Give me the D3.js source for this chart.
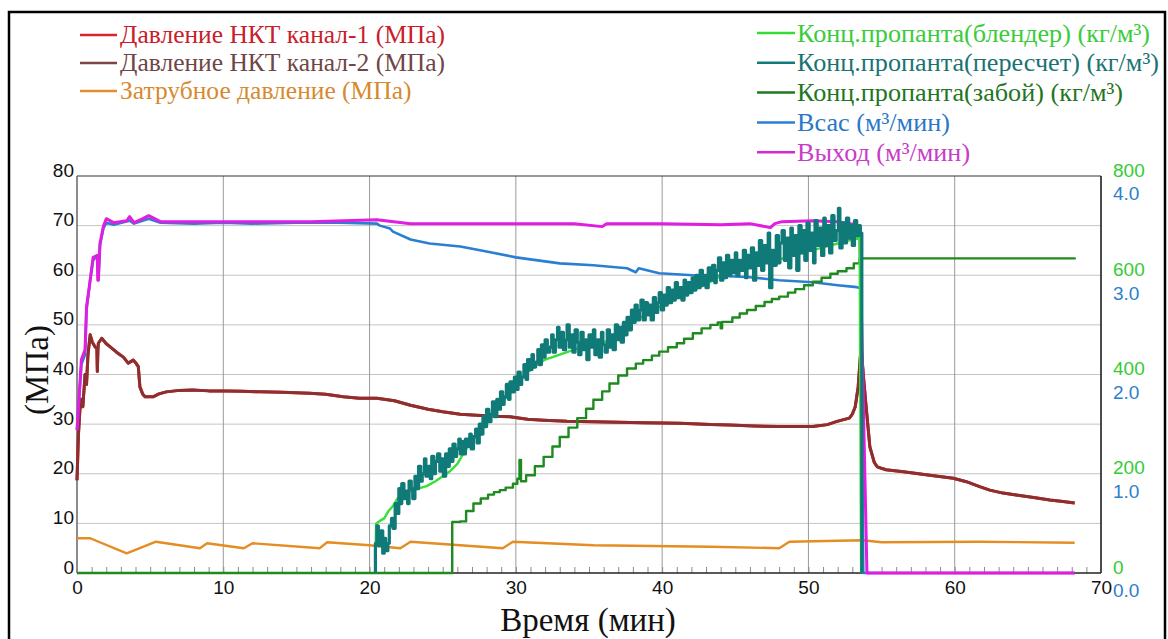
<!DOCTYPE html>
<html>
<head>
<meta charset="utf-8">
<script src="https://cdn.jsdelivr.net/npm/d3@7"></script>
<style>
  body { margin: 0; background: #fff; }
  svg { display: block; }
  .tick text { font-family: "Liberation Sans", Arial, sans-serif; font-size: 19px; }
  .legend-text, .axis-title { font-family: "Liberation Serif", "Times New Roman", serif; }
  .legend-text { font-size: 25.5px; }
  .legend-right { font-size: 26.2px; }
  .axis-title { font-size: 33px; fill: #111; }
</style>
</head>
<body>
<svg id="chart"></svg>
<script>
// time axis (min) and left axis (MPa) ticks
const timeTicks = [0, 10, 20, 30, 40, 50, 60, 70];
const pressureTicks = [0, 10, 20, 30, 40, 50, 60, 70, 80];
const concTicks = [0, 200, 400, 600, 800];
const rateTicks = [0, 1, 2, 3, 4];

// [time, MPa]
const tubingP2 = [
  [0,18.7],[0.1,28],[0.2,33],[0.3,35],[0.4,33.5],[0.55,40],[0.65,38],[0.75,44],[0.9,48],[1.05,46.5],
  [1.23,45.6],[1.36,45.2],[1.39,40.6],[1.43,45],[1.46,46.3],[1.69,47.3],[2.0,46.2],[2.25,45.6],[2.7,44.5],
  [3.17,43.5],[3.5,42.3],[3.85,42.9],[4.05,42.2],[4.19,41.6],[4.3,37.5],[4.5,36],[4.65,35.5],[5.2,35.5],
  [5.6,36.1],[6.1,36.5],[7.0,36.8],[7.9,36.9],[9.0,36.7],[10.2,36.7],[11.3,36.6],[12.5,36.5],[14.0,36.4],
  [15.9,36.2],[17.0,36.0],[18.2,35.5],[19.3,35.2],[20.5,35.2],[21.7,34.7],[22.8,33.8],[24.0,33.0],[25.0,32.5],
  [26.2,32.0],[27.3,31.8],[28.5,31.6],[29.6,31.5],[30.8,31.0],[31.9,30.8],[33.5,30.6],[35.3,30.5],[37.0,30.4],
  [38.7,30.3],[41.2,30.2],[43.3,29.9],[44.6,29.8],[46.3,29.6],[48.0,29.5],[50.3,29.5],[51.3,29.9],[51.9,30.5],
  [52.4,30.9],[52.8,31.2],[53.0,32],[53.2,33.5],[53.4,37.5],[53.6,45.6],[53.75,40],[53.9,34.9],[54.2,25.4],
  [54.5,22.3],[54.7,21.4],[55.3,20.8],[56.5,20.4],[58.3,19.7],[59.9,19.1],[60.8,18.4],[61.7,17.4],[62.4,16.7],
  [63.3,16.1],[64.2,15.7],[65.4,15.2],[66.5,14.7],[67.4,14.4],[68.2,14.1]
];
// channel 1 reads the same as channel 2 and lies under it
const tubingP1 = tubingP2;

const annulusP = [
  [0,7.0],[0.9,7.0],[3.4,3.95],[5.4,6.3],[8.4,5.0],[8.9,6.0],[11.4,5.0],[12.0,6.0],[16.6,5.0],[17.1,6.2],
  [20.0,5.6],[22.1,5.0],[22.8,6.3],[29.1,5.0],[29.8,6.3],[35.3,5.6],[43.3,5.3],[48.0,5.0],[48.7,6.3],
  [53.7,6.6],[55,6.2],[61.7,6.3],[68.2,6.1]
];

// [time, m3/min]
const suctionRate = [
  [0,1.44],[0.3,2.1],[0.55,2.2],[0.65,2.65],[0.9,2.95],[1.1,3.15],[1.39,3.2],[1.46,2.95],[1.57,3.3],[1.8,3.47],
  [2.0,3.53],[2.5,3.51],[3.6,3.55],[3.9,3.52],[4.9,3.57],[5.7,3.53],[8,3.52],[10,3.53],[12,3.52],[15,3.53],
  [18,3.53],[20.5,3.52],[20.7,3.5],[21.4,3.47],[21.6,3.44],[22.8,3.36],[24.1,3.32],[26.2,3.29],[28,3.24],
  [30,3.18],[33,3.12],[35.3,3.1],[37.6,3.07],[38.2,3.03],[38.4,3.07],[39.8,3.02],[42.1,3.0],[44.6,2.99],
  [46,2.98],[48,2.95],[50.3,2.93],[52,2.9],[53.3,2.88],[53.6,2.87],[53.75,0],[68.2,0]
];
const outletRate = [
  [0,1.44],[0.3,2.15],[0.55,2.25],[0.65,2.68],[0.9,2.95],[1.1,3.18],[1.39,3.2],[1.42,2.95],[1.46,2.95],
  [1.57,3.32],[1.8,3.49],[2.0,3.57],[2.5,3.53],[3.4,3.55],[3.6,3.59],[3.9,3.53],[4.5,3.57],[4.9,3.6],
  [5.7,3.54],[8,3.54],[12,3.54],[16,3.54],[20.5,3.56],[22.8,3.52],[26,3.52],[30,3.52],[34,3.52],[35.9,3.49],
  [36.2,3.52],[40,3.52],[44,3.51],[46,3.52],[47.4,3.48],[47.7,3.52],[48.2,3.54],[50.3,3.55],[52,3.54],
  [53.3,3.51],[53.5,3.47],[54.0,0],[68.2,0]
];

// [time, kg/m3]
const concBlender = [
  [20.38,0],[20.45,100],[20.7,105],[21.0,110],[21.3,125],[21.6,135],[21.9,150],[22.3,160],[22.8,165],
  [23.3,170],[23.9,175],[24.5,185],[25.0,195],[25.5,205],[26.0,220],[26.5,245],[27.0,265],[27.5,285],
  [28.0,305],[28.5,320],[29.0,340],[29.5,360],[30.0,375],[30.5,395],[31.0,410],[31.5,420],[32.0,430],
  [32.5,435],[33.0,440],[33.5,445],[34.0,450],[34.5,455],[35.0,460],[35.5,462],[36.0,465],[36.5,470],
  [37.0,480],[37.5,490],[38.0,505],[38.5,515],[39.0,520],[39.5,530],[40.0,540],[40.5,548],[41.0,555],
  [41.5,562],[42.0,568],[42.5,575],[43.0,582],[43.5,590],[44.0,598],[44.5,605],[45.0,610],[45.5,615],
  [46.0,618],[46.5,622],[47.0,625],[47.5,628],[48.0,632],[48.5,636],[49.0,640],[49.5,644],[50.0,648],
  [50.5,652],[51.0,656],[51.5,660],[52.0,664],[52.5,668],[53.0,672],[53.5,676],[53.6,0]
];
const concRecalc = [
  [20.4,0],[20.4,60],[20.5,95],[20.6,55],[20.75,85],[20.9,40],[21.0,70],[21.1,45],[21.25,60],[21.35,95],
  [21.5,110],[21.6,90],[21.75,140],[21.85,120],[22.0,170],[22.1,140],[22.2,180],[22.35,150],[22.45,165],
  [22.6,140],[22.7,185],[22.85,170],[22.95,150],[23.1,195],[23.2,170],[23.35,215],[23.5,185],[23.6,200],
  [23.75,230],[23.85,195],[24.0,215],[24.15,190],[24.25,235],[24.4,200],[24.5,225],[24.65,240],[24.8,205],
  [24.9,230],[25.05,195],[25.2,240],[25.3,215],[25.45,250],[25.6,225],[25.7,260],[25.85,235],[25.95,250],
  [26.1,270],[26.2,240],[26.3,265],[26.45,240],[26.55,270],[26.7,255],[26.85,280],[26.95,250],[27.1,275],
  [27.25,290],[27.35,262],[27.5,300],[27.6,280],[27.75,315],[27.9,295],[28.0,330],[28.15,305],[28.3,320],
  [28.4,345],[28.55,315],[28.7,350],[28.8,330],[28.95,365],[29.1,340],[29.2,355],[29.35,380],[29.5,350],
  [29.6,385],[29.75,365],[29.9,395],[30.0,370],[30.15,405],[30.3,380],[30.4,395],[30.55,420],[30.7,390],
  [30.8,430],[30.95,410],[31.1,440],[31.2,415],[31.35,425],[31.5,450],[31.6,420],[31.75,460],[31.9,435],
  [32.0,470],[32.15,445],[32.3,455],[32.45,480],[32.55,445],[32.7,470],[32.85,495],[32.95,455],[33.1,485],
  [33.25,450],[33.4,470],[33.5,500],[33.65,455],[33.8,480],[33.9,445],[34.05,490],[34.2,465],[34.3,440],
  [34.45,485],[34.6,450],[34.75,470],[34.85,430],[35.0,480],[35.15,455],[35.3,490],[35.4,440],[35.55,470],
  [35.7,435],[35.85,485],[35.95,460],[36.1,445],[36.25,490],[36.4,455],[36.5,480],[36.65,450],[36.8,500],
  [36.95,470],[37.05,495],[37.2,465],[37.35,505],[37.5,480],[37.6,515],[37.75,490],[37.9,530],[38.0,505],
  [38.15,540],[38.3,510],[38.45,530],[38.55,550],[38.7,510],[38.85,545],[39.0,520],[39.1,540],[39.25,510],
  [39.4,555],[39.55,525],[39.7,545],[39.8,565],[39.95,530],[40.1,560],[40.2,540],[40.35,575],[40.5,545],
  [40.65,570],[40.8,550],[40.9,585],[41.05,555],[41.2,575],[41.35,550],[41.5,590],[41.6,560],[41.75,585],
  [41.9,565],[42.05,595],[42.2,570],[42.3,600],[42.45,575],[42.6,610],[42.75,580],[42.9,600],[43.0,575],
  [43.15,615],[43.3,590],[43.45,620],[43.6,585],[43.7,610],[43.85,635],[44.0,590],[44.15,625],[44.3,595],
  [44.4,640],[44.55,600],[44.7,630],[44.85,605],[45.0,645],[45.1,600],[45.25,630],[45.4,610],[45.55,650],
  [45.7,595],[45.8,640],[45.95,615],[46.1,655],[46.25,590],[46.4,645],[46.5,620],[46.65,670],[46.8,610],
  [46.95,660],[47.1,625],[47.25,685],[47.35,575],[47.5,650],[47.65,620],[47.8,680],[47.95,625],[48.05,665],
  [48.2,690],[48.35,630],[48.5,675],[48.65,615],[48.8,695],[48.9,640],[49.05,680],[49.2,610],[49.35,700],
  [49.5,645],[49.6,690],[49.75,630],[49.9,705],[50.05,650],[50.2,685],[50.35,625],[50.45,710],[50.6,660],
  [50.75,695],[50.9,640],[51.05,715],[51.15,660],[51.3,700],[51.45,645],[51.6,720],[51.75,670],[51.9,690],
  [52.05,735],[52.15,655],[52.3,705],[52.45,665],[52.6,715],[52.75,675],[52.85,700],[53.0,660],[53.15,710],
  [53.3,680],[53.45,700],[53.55,685],[53.65,0]
];
const concBottomhole = [
  [0,0],[25.6,0],[25.65,103],[26.2,104],[26.6,125],[27.1,140],[27.6,150],[28.1,158],[28.5,163],[28.9,167],
  [29.3,172],[29.8,180],[30.1,190],[30.25,228],[30.35,185],[30.7,197],[31.3,215],[31.9,234],[32.5,255],
  [33.0,274],[33.6,293],[34.2,312],[34.8,331],[35.3,349],[35.9,366],[36.4,382],[37.0,398],[37.6,412],
  [38.2,422],[38.7,429],[39.3,438],[39.8,446],[40.4,455],[41.0,463],[41.5,472],[42.1,483],[42.7,493],
  [43.3,500],[43.8,505],[44.0,493],[44.1,506],[44.8,515],[45.3,523],[45.8,530],[46.4,538],[47.0,546],
  [47.5,552],[48.0,557],[48.6,565],[49.1,572],[49.7,580],[50.3,587],[50.9,595],[51.5,603],[52.0,608],
  [52.6,614],[53.1,624],[53.5,634],[68.2,636]
];

const leftLegend = ["Давление НКТ канал-1 (МПа)", "Давление НКТ канал-2 (МПа)", "Затрубное давление (МПа)"];
const rightLegend = ["Конц.пропанта(блендер) (кг/м³)", "Конц.пропанта(пересчет) (кг/м³)",
  "Конц.пропанта(забой) (кг/м³)", "Всас (м³/мин)", "Выход (м³/мин)"];

document.addEventListener("DOMContentLoaded", function() {
  const width = 1168;
  const height = 639;
  const plot = { left: 77, right: 1101, top: 176, bottom: 573 };

  const svg = d3.select("#chart")
                .attr("width", width)
                .attr("height", height);

  //setup scales
  const xScale = d3.scaleLinear().domain([0, 70]).range([plot.left, plot.right]);
  const yScale = d3.scaleLinear().domain([0, 80]).range([plot.bottom, plot.top]);
  const concScale = d3.scaleLinear().domain([0, 800]).range([plot.bottom, plot.top]);
  const rateScale = d3.scaleLinear().domain([0, 4]).range([plot.bottom, plot.top]);

  //outer frame
  svg.append("rect")
     .attr("x", 9).attr("y", 12)
     .attr("width", 1156).attr("height", 660)
     .attr("fill", "none")
     .attr("stroke", "#000")
     .attr("stroke-width", 2.5);

  //grid
  svg.append("g")
     .selectAll("line")
     .data(pressureTicks.slice(1, -1))
     .enter()
     .append("line")
       .attr("x1", plot.left).attr("x2", plot.right)
       .attr("y1", d => yScale(d)).attr("y2", d => yScale(d))
       .attr("stroke", "#c4c4c4");
  svg.append("g")
     .selectAll("line")
     .data(timeTicks.slice(1, -1))
     .enter()
     .append("line")
       .attr("x1", d => xScale(d)).attr("x2", d => xScale(d))
       .attr("y1", plot.top).attr("y2", plot.bottom)
       .attr("stroke", "#9a9a9a");

  //minor ticks every minute
  svg.append("g")
     .attr("transform", `translate(0,${plot.bottom})`)
     .call(d3.axisBottom(xScale).tickValues(d3.range(1, 70)).tickSize(-6).tickFormat(""))
     .call(g => g.select(".domain").remove())
     .selectAll("line").attr("stroke", "#8a8a8a");

  //plot border
  const border = svg.append("g").attr("fill", "none");
  border.append("line").attr("x1", plot.left).attr("x2", plot.right).attr("y1", plot.top).attr("y2", plot.top).attr("stroke", "#333");
  border.append("line").attr("x1", plot.right).attr("x2", plot.right).attr("y1", plot.top).attr("y2", plot.bottom).attr("stroke", "#111").attr("stroke-width", 1.5);
  border.append("line").attr("x1", plot.left).attr("x2", plot.left).attr("y1", plot.top).attr("y2", plot.bottom).attr("stroke", "#666").attr("stroke-width", 1.5);
  border.append("line").attr("x1", plot.left).attr("x2", plot.right).attr("y1", plot.bottom).attr("y2", plot.bottom).attr("stroke", "#222").attr("stroke-width", 1.5);

  //axes labels
  svg.append("g")
     .attr("transform", `translate(${plot.left},0)`)
     .call(d3.axisLeft(yScale).tickValues(pressureTicks).tickSize(0).tickPadding(3))
     .call(g => g.select(".domain").remove())
     .selectAll("text").attr("dy", "0").attr("fill", "#111");

  svg.append("g")
     .attr("transform", `translate(0,${plot.bottom})`)
     .call(d3.axisBottom(xScale).tickValues(timeTicks).tickSize(0).tickPadding(8))
     .call(g => g.select(".domain").remove())
     .selectAll("text").attr("fill", "#111");

  svg.append("g")
     .attr("transform", `translate(${plot.right},0)`)
     .call(d3.axisRight(concScale).tickValues(concTicks).tickSize(0).tickPadding(12))
     .call(g => g.select(".domain").remove())
     .selectAll("text").attr("dy", "0").attr("fill", "#33cc33");

  svg.append("g")
     .attr("transform", `translate(${plot.right},0)`)
     .call(d3.axisRight(rateScale).tickValues(rateTicks).tickSize(0).tickPadding(12).tickFormat(d3.format(".1f")))
     .call(g => g.select(".domain").remove())
     .selectAll("text").attr("dy", "1.25em").attr("fill", "#2d7fcb");

  //axis titles
  svg.append("text")
     .attr("class", "axis-title")
     .attr("text-anchor", "middle")
     .attr("x", 588)
     .attr("y", 631)
     .text("Время (мин)");

  svg.append("text")
     .attr("class", "axis-title")
     .attr("text-anchor", "middle")
     .attr("transform", "translate(48,370) rotate(-90)")
     .text("(МПа)");

  //series (the concentration logs are stepped)
  const series = [
    { data: annulusP, scale: yScale, color: "#e58c22", width: 2.4, curve: d3.curveLinear },
    { data: tubingP1, scale: yScale, color: "#d8242b", width: 3, curve: d3.curveLinear },
    { data: tubingP2, scale: yScale, color: "#8e2f2f", width: 3, curve: d3.curveLinear },
    { data: suctionRate, scale: rateScale, color: "#2a7fd2", width: 2.6, curve: d3.curveLinear },
    { data: outletRate, scale: rateScale, color: "#e01de0", width: 3, curve: d3.curveLinear },
    { data: concBottomhole, scale: concScale, color: "#1f8a1f", width: 2.4, curve: d3.curveStepAfter },
    { data: concBlender, scale: concScale, color: "#36e036", width: 2.4, curve: d3.curveLinear },
    { data: concRecalc, scale: concScale, color: "#0f7a78", width: 3.2, curve: d3.curveStepAfter }
  ];

  svg.append("g")
     .selectAll("path")
     .data(series)
     .enter()
     .append("path")
       .attr("fill", "none")
       .attr("stroke", d => d.color)
       .attr("stroke-width", d => d.width)
       .attr("stroke-linejoin", "round")
       .attr("d", d => d3.line().curve(d.curve).x(p => xScale(p[0])).y(p => d.scale(p[1]))(d.data));

  //legends
  const leftColors = ["#d8242b", "#7d4545", "#e0902a"];
  const leftText = ["#c8202a", "#6e4646", "#d68a30"];
  const rightColors = ["#33dd33", "#137a7a", "#1f7a1f", "#2a7fd2", "#d52ad5"];
  const rightText = ["#3acc3a", "#1a7373", "#237523", "#2a78c8", "#c83cc8"];

  const legendL = svg.append("g").selectAll("g")
     .data(leftLegend)
     .enter()
     .append("g")
       .attr("transform", (d, i) => `translate(80,${35 + i * 28})`);
  legendL.append("line").attr("x2", 37).attr("stroke", (d, i) => leftColors[i]).attr("stroke-width", 2.5);
  legendL.append("text").attr("class", "legend-text").attr("x", 40).attr("dy", "0.33em")
         .attr("fill", (d, i) => leftText[i]).text(d => d);

  const legendR = svg.append("g").selectAll("g")
     .data(rightLegend)
     .enter()
     .append("g")
       .attr("transform", (d, i) => `translate(757,${33 + i * 29.8})`);
  legendR.append("line").attr("x2", 38).attr("stroke", (d, i) => rightColors[i]).attr("stroke-width", 2.5);
  legendR.append("text").attr("class", "legend-text legend-right").attr("x", 40).attr("dy", "0.33em")
         .attr("fill", (d, i) => rightText[i]).text(d => d);
});
</script>
</body>
</html>
